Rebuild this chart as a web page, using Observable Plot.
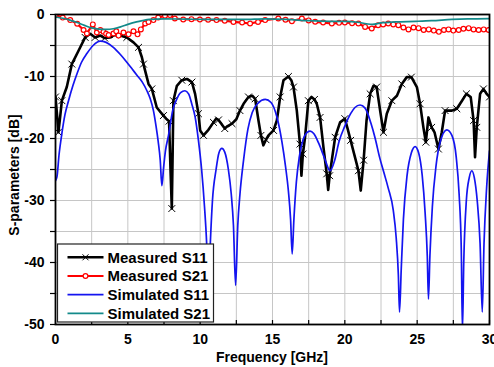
<!DOCTYPE html>
<html><head><meta charset="utf-8">
<script src="https://cdn.jsdelivr.net/npm/d3@7"></script>
<script src="https://cdn.jsdelivr.net/npm/@observablehq/plot@0.6"></script>
<style>
html,body{margin:0;padding:0;background:#fff;}
#chart{width:494px;height:367px;}
</style>
</head><body><div id="chart"></div>
<script>
// ---- tick arrays ----
const xLabelTicks = [0, 5, 10, 15, 20, 25, 30];
const xGridTicks = [0, 2.5, 5, 7.5, 10, 12.5, 15, 17.5, 20, 22.5, 25, 27.5, 30];
const yLabelTicks = [-50, -40, -30, -20, -10, 0];
const yGridTicks = [-50, -45, -40, -35, -30, -25, -20, -15, -10, -5, 0];
const xTitle = "Frequency [GHz]";
const yTitle = "S-parameters [dB]";
const seriesNames = ["Measured S11", "Measured S21", "Simulated S11", "Simulated S21"];
const seriesColors = ["#000000", "#ff0000", "#1414f0", "#138a8a"];

// ---- Measured S11 ----
const measS11Freq = [0,0.1,0.2,0.3,0.44,0.78,1.13,1.6,2.05,2.4,2.74,3.1,3.4,3.78,4.1,4.47,4.93,5.39,5.74,5.97,6.08,6.43,6.66,7.0,7.46,7.65,7.85,7.95,8.04,8.1,8.15,8.39,8.73,9.08,9.43,9.65,9.88,10.0,10.23,10.57,10.92,11.1,11.27,11.45,11.7,11.9,12.2,12.5,12.75,13.0,13.34,13.6,13.8,14.03,14.2,14.37,14.55,14.72,15.07,15.3,15.53,15.76,16.1,16.3,16.45,16.68,16.9,17.0,17.1,17.25,17.48,17.7,17.9,18.06,18.29,18.52,18.75,18.85,18.95,19.1,19.33,19.67,20.0,20.2,20.4,20.7,20.94,21.1,21.3,21.5,21.75,21.98,22.2,22.44,22.67,22.9,23.25,23.6,23.94,24.28,24.6,24.98,25.2,25.43,25.6,25.78,26.0,26.2,26.47,26.7,26.93,27.4,27.74,28.1,28.4,28.7,28.9,29.0,29.12,29.35,29.58,29.8,30.0];
const measS11Db = [-13.3,-16,-19,-17,-13.9,-11.7,-8,-5.8,-3.7,-3.1,-3.7,-3.4,-3.8,-3.7,-3.3,-3.4,-3.7,-4.5,-5.3,-6.9,-8,-11.2,-12,-15,-16.3,-16.8,-17.2,-25,-31.3,-22,-13.9,-11.5,-10.6,-10.4,-10.9,-12.8,-16,-18.7,-19.5,-18.6,-17.4,-16.8,-17.0,-17.6,-18.4,-18.0,-17.6,-16.9,-15.5,-14.4,-13.3,-13.1,-13.6,-17.1,-19.5,-21.1,-20.2,-19.5,-18.7,-17.1,-13.3,-10.6,-10,-10.6,-11.7,-15.5,-20.9,-26,-22.5,-19.8,-13.9,-13.3,-13.7,-14.4,-16.6,-21.4,-25.7,-28.3,-26,-23.5,-19.8,-17.4,-16.8,-18.5,-20.3,-23,-25.2,-28.4,-23.5,-17.1,-12.8,-11.5,-11.7,-15.5,-19,-16,-13.9,-13.1,-11.2,-10.1,-10.1,-11.7,-14.4,-18.2,-20.6,-16.6,-18.2,-19,-21.7,-19,-15.5,-15.5,-15.2,-13.9,-12.8,-13.3,-17.1,-23,-18.2,-12.8,-12,-12.8,-13.3];

// ---- Measured S21 ----
const measS21Freq = [0,0.5,1.02,1.5,1.94,2.17,2.58,2.86,3.1,3.32,3.5,3.67,4.01,4.2,4.36,4.7,5.05,5.39,5.67,5.9,6.2,6.43,6.77,7.1,7.57,7.91,8.25,8.83,9.4,9.98,10.55,11.13,11.7,12.3,12.9,13.45,14.0,14.49,15.4,15.9,16.34,17.03,17.5,17.95,18.5,19.1,19.6,20.0,20.5,20.94,21.4,21.86,22.3,22.65,23.0,23.35,23.7,24.05,24.4,24.75,25.1,25.45,25.8,26.15,26.5,26.85,27.17,27.5,27.87,28.2,28.56,28.9,29.25,29.6,29.94];
const measS21Db = [-0.1,-0.5,-0.9,-1.5,-2.5,-3.06,-1.6,-2.9,-2.5,-2.8,-3.1,-3.3,-3.06,-2.7,-3.4,-2.9,-3.2,-2.7,-3.2,-2.4,-1.45,-1.2,-0.9,-0.5,-0.2,-0.1,-0.65,-0.8,-0.75,-0.8,-0.85,-0.9,-1.0,-1.2,-1.3,-1.45,-1.2,-0.9,-0.65,-0.85,-1.07,-0.65,-0.95,-1.18,-1.3,-1.45,-1.35,-1.29,-1.4,-1.45,-2.0,-2.26,-1.72,-1.6,-1.45,-1.6,-1.72,-2.1,-2.4,-2.1,-2.2,-2.5,-2.4,-2.6,-2.8,-2.5,-2.4,-2.6,-2.5,-2.3,-2.2,-2.4,-2.5,-2.4,-2.5];

// ---- Simulated S11 ----
const simS11Freq = [0,0.1,0.25,0.44,0.65,0.9,1.2,1.48,1.8,2.17,2.6,3.09,3.5,4.0,4.5,4.93,5.3,5.63,6.0,6.32,6.55,6.77,6.95,7.1,7.24,7.35,7.48,7.6,7.81,8.1,8.39,8.65,8.95,9.2,9.43,9.65,9.88,10.1,10.3,10.45,10.57,10.7,10.85,11.1,11.3,11.5,11.7,11.95,12.15,12.3,12.45,12.6,12.75,13.0,13.3,13.6,14.0,14.5,14.9,15.3,15.65,15.9,16.1,16.25,16.36,16.48,16.65,16.85,17.1,17.4,17.6,17.85,18.2,18.6,18.98,19.3,19.6,20.0,20.4,20.7,21.05,21.4,21.8,22.1,22.4,22.7,23.0,23.35,23.55,23.7,23.78,23.9,24.05,24.3,24.6,24.86,25.1,25.35,25.55,25.7,25.78,25.88,26.05,26.3,26.6,27.05,27.4,27.7,27.9,28.05,28.13,28.22,28.4,28.6,28.78,28.95,29.15,29.35,29.5,29.62,29.8,30.0];
const simS11Db = [-26.8,-26.2,-22.5,-19.2,-16.2,-13.9,-11.5,-9.6,-7.7,-6.3,-5.0,-4.3,-4.5,-5.3,-6.5,-7.7,-8.8,-9.8,-10.9,-12.3,-13.6,-15.5,-18,-20.5,-23.5,-27.6,-24.5,-22,-19.5,-15.5,-13.6,-12.6,-12.3,-12.8,-14.5,-16.5,-20.3,-25,-31,-37,-45,-37,-30,-25,-22.3,-21.6,-22.2,-25,-29,-34,-43.7,-34,-29,-23.5,-18.5,-15.8,-14.3,-13.7,-14.2,-16.5,-20.5,-24.5,-28.5,-33,-38.6,-33,-27,-23,-20.3,-19.0,-18.8,-19.2,-20.8,-23.2,-25.2,-23.5,-20.5,-18,-16,-15,-14.6,-15.1,-17.5,-20.0,-23.0,-25.5,-28,-31.6,-36,-42,-48,-41,-33,-26,-22.3,-21.3,-22.3,-26,-32,-39,-45.9,-39,-31,-24.5,-20.5,-18.6,-19.5,-23,-29,-38,-51,-40,-30,-26.3,-25.2,-26.3,-30,-37,-48,-37,-28,-22];

// ---- Simulated S21 ----
const simS21Freq = [0,0.5,1.0,1.5,2.0,2.5,3.0,3.5,4.0,4.5,5.0,5.6,6.0,6.5,7.5,9,11,13,14.5,16,17.5,19,20,20.9,21.5,21.9,22.5,23.5,24.9,26,27.4,28.5,30];
const simS21Db = [-0.4,-0.6,-0.9,-1.3,-1.75,-2.15,-2.35,-2.4,-2.3,-2.0,-1.6,-1.2,-1.0,-0.8,-0.7,-0.75,-0.8,-0.8,-0.7,-0.8,-1.0,-1.1,-1.1,-1.25,-1.5,-1.6,-1.35,-1.2,-1.1,-1.0,-0.8,-0.7,-0.65];

const rows = (f, d) => f.map((x, i) => ({x, y: d[i], i}));
const mS11 = rows(measS11Freq, measS11Db);
const mS21 = rows(measS21Freq, measS21Db);
const sS11 = rows(simS11Freq, simS11Db);
const sS21 = rows(simS21Freq, simS21Db);

const FONT = "'Liberation Sans', Arial, Helvetica, sans-serif";

const plot = Plot.plot({
  width: 494, height: 367,
  marginLeft: 55, marginRight: 5, marginTop: 14, marginBottom: 43,
  style: {fontFamily: FONT, fontSize: "14px", fontWeight: "bold", color: "#000", background: "#fff", overflow: "visible"},
  x: {domain: [0, 30], label: null},
  y: {domain: [-50, 0], label: null},
  marks: [
    Plot.gridX(xGridTicks, {stroke: "#c6c6c6", strokeOpacity: 1, strokeWidth: 1}),
    Plot.gridY(yGridTicks, {stroke: "#c6c6c6", strokeOpacity: 1, strokeWidth: 1}),
    Plot.line(mS11, {x: "x", y: "y", stroke: seriesColors[0], strokeWidth: 2.6, clip: true}),
    Plot.dot(mS11.filter(d => d.i % 2 === 0), {x: "x", y: "y", symbol: "times", r: 3.2, stroke: seriesColors[0], strokeWidth: 1, clip: true}),
    Plot.line(mS21, {x: "x", y: "y", stroke: seriesColors[1], strokeWidth: 2.2, clip: true}),
    Plot.dot(mS21, {x: "x", y: "y", r: 2.4, fill: "#fff", stroke: seriesColors[1], strokeWidth: 1.2, clip: true}),
    Plot.line(sS11, {x: "x", y: "y", stroke: seriesColors[2], strokeWidth: 1.7, curve: "monotone-x", clip: true}),
    Plot.line(sS21, {x: "x", y: "y", stroke: seriesColors[3], strokeWidth: 1.7, curve: "monotone-x", clip: true}),
    Plot.axisX(xGridTicks, {tickSize: -4, tickFormat: () => "", strokeWidth: 1.2}),
    Plot.axisX(xLabelTicks, {tickSize: 0, tickPadding: 10, tickFormat: d => String(d), fontSize: 14, fontWeight: "bold"}),
    Plot.axisY(yGridTicks, {tickSize: 5, tickFormat: () => "", strokeWidth: 1.2}),
    Plot.axisY(yLabelTicks, {tickSize: 5, tickPadding: 6, tickFormat: d => String(d), fontSize: 14, fontWeight: "bold"}),
    Plot.frame({stroke: "#000", strokeWidth: 1.8})
  ]
});
document.getElementById("chart").appendChild(plot);

const svg = d3.select(plot);
// axis titles
svg.append("text").attr("x", 272).attr("y", 362).attr("text-anchor", "middle")
  .style("font", `bold 14px ${FONT}`).attr("fill", "#000").text(xTitle);
svg.append("text").attr("transform", "translate(19,175) rotate(-90)").attr("text-anchor", "middle")
  .style("font", `bold 14px ${FONT}`).attr("fill", "#000").text(yTitle);

// legend
const lg = svg.append("g");
const lx = 57.5, ly = 244, lw = 156, lh = 78, rowH = 18.7, r0 = 13.3;
lg.append("rect").attr("x", lx).attr("y", ly).attr("width", lw).attr("height", lh)
  .attr("fill", "#fff").attr("stroke", "#222").attr("stroke-width", 1.2);
seriesNames.forEach((name, k) => {
  const cy = ly + r0 + k * rowH;
  const sw = [2.6, 2.2, 1.7, 1.7][k];
  lg.append("line").attr("x1", lx + 10).attr("x2", lx + 46).attr("y1", cy).attr("y2", cy)
    .attr("stroke", seriesColors[k]).attr("stroke-width", sw);
  if (k === 0) {
    const cx = lx + 28, s = 3;
    lg.append("path").attr("d", `M${cx - s},${cy - s}L${cx + s},${cy + s}M${cx - s},${cy + s}L${cx + s},${cy - s}`)
      .attr("stroke", "#000").attr("stroke-width", 1).attr("fill", "none");
  }
  if (k === 1) {
    lg.append("circle").attr("cx", lx + 28).attr("cy", cy).attr("r", 2.4)
      .attr("fill", "#fff").attr("stroke", seriesColors[1]).attr("stroke-width", 1.2);
  }
  lg.append("text").attr("x", lx + 50).attr("y", cy).attr("dy", "0.36em")
    .attr("text-anchor", "start")
    .style("font", `bold 15px ${FONT}`).attr("fill", "#000").text(name);
});
</script>
</body></html>
